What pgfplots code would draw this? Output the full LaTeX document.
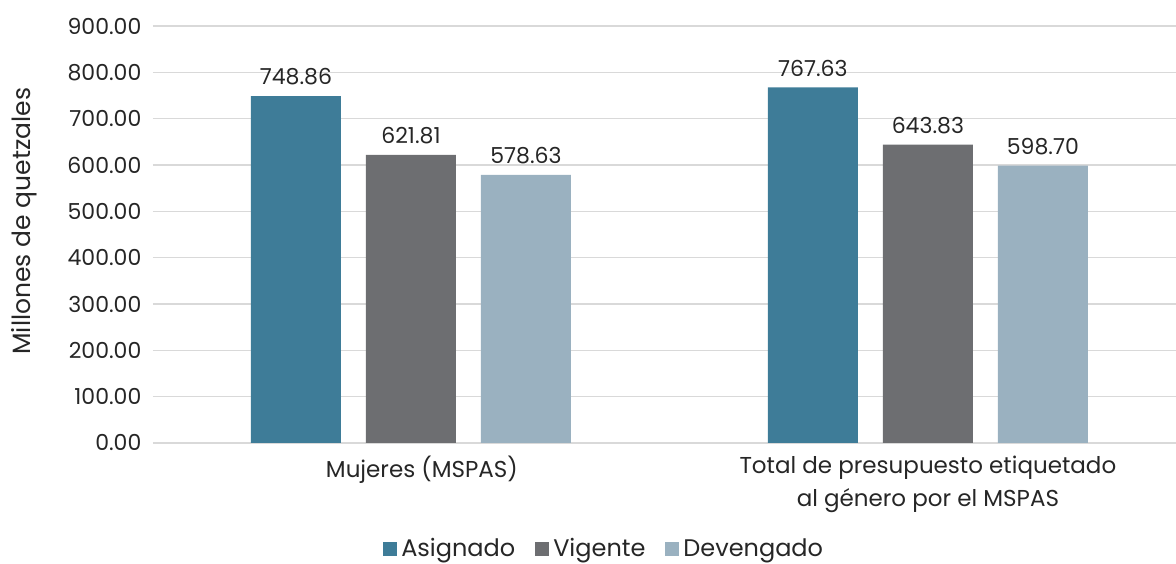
\documentclass[border=0pt]{standalone}
\usepackage{pgfplots}
\pgfplotsset{compat=1.18}
\usepackage{fontspec}
\setmainfont{Poppins}
\definecolor{asig}{HTML}{3E7C98}
\definecolor{vig}{HTML}{6D6E71}
\definecolor{dev}{HTML}{9AB1C0}
\definecolor{gridc}{HTML}{D9D9D9}
\definecolor{txt}{HTML}{262626}
\begin{document}
\begin{tikzpicture}
\begin{axis}[
  name=ax,
  scale only axis,
  width=511.5pt, height=208.5pt,
  ybar, bar width=45pt,
  xmin=-0.499, xmax=1.48,
  ymin=0, ymax=900,
  ytick={0,100,...,900},
  xtick={0,1},
  xticklabels={\hspace*{11pt}Mujeres (MSPAS), {Total de presupuesto etiquetado\\[1.5pt]al género por el MSPAS}},
  axis line style={draw=none},
  axis x line*=bottom,
  axis y line*=left,
  major tick length=0pt,
  ymajorgrids, grid style={gridc, line width=0.75pt},
  /pgf/number format/assume math mode=true,
  yticklabel style={/pgf/number format/.cd, fixed, fixed zerofill, precision=2, 1000 sep={}, /tikz/.cd, font=\fontsize{11}{13}\selectfont, text=txt, xshift=-2.3pt},
  xticklabel style={align=center, font=\fontsize{11.5}{15}\selectfont, text=txt, yshift=-3pt},
  ylabel={Millones de quetzales},
  every axis y label/.style={at={(axis description cs:0,0.532)}, xshift=-64.5pt, rotate=90, anchor=center, font=\fontsize{12.5}{14}\selectfont, text=txt},
  nodes near coords,
  nodes near coords style={font=\fontsize{11}{13}\selectfont, text=txt, /pgf/number format/.cd, fixed, fixed zerofill, precision=2, assume math mode=true, 1000 sep={}, /tikz/.cd, yshift=2pt},
  legend style={at={(axis description cs:0.442,0)}, anchor=center, yshift=-53pt, draw=none, legend columns=3, font=\fontsize{12}{14}\selectfont, text=txt, /tikz/every even column/.append style={column sep=8pt}},
  legend image code/.code={\fill[#1] (0pt,-3.5pt) rectangle (7pt,3.5pt);},
  clip=false,
]
\addplot[fill=asig, draw=none, bar shift=-57.5pt] coordinates {(0,748.86) (1,767.63)};
\addplot[fill=vig, draw=none, bar shift=0pt] coordinates {(0,621.81) (1,643.83)};
\addplot[fill=dev, draw=none, bar shift=57.5pt] coordinates {(0,578.63) (1,598.70)};
\legend{Asignado, Vigente, Devengado}
\end{axis}
\pgfresetboundingbox
\path[use as bounding box] ([xshift=-76.5pt, yshift=-60.5pt]ax.south west) rectangle ([yshift=13pt]ax.north east);
\end{tikzpicture}
\end{document}
